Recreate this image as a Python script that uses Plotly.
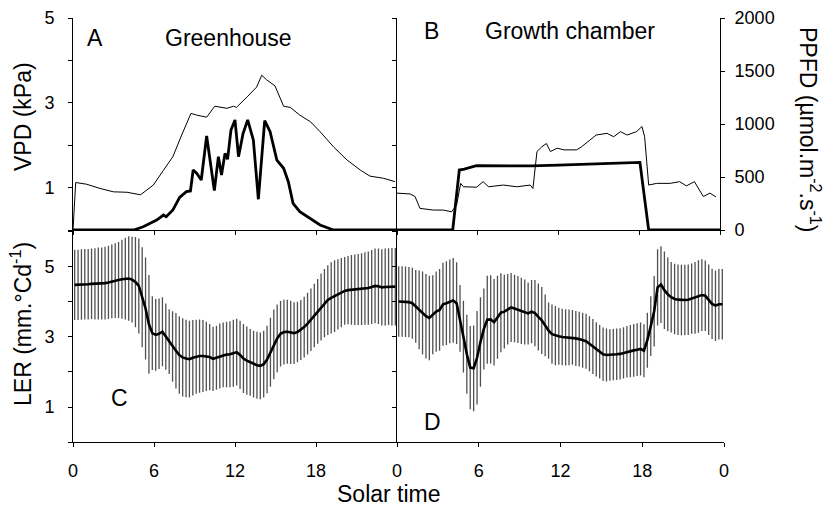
import plotly.graph_objects as go

# ---------------- DATA ----------------
# Panel A (Greenhouse): VPD (kPa, thin) and PPFD (umol m-2 s-1, thick)
gh_vpd_t = [0, 0.2, 1.0, 2.0, 3.0, 4.0, 5.0, 5.95, 6.7, 7.4, 8.05, 8.74, 9.16, 9.9, 10.5,
            11.4, 11.9, 12.1, 12.9, 13.6, 13.98, 14.35, 14.96, 15.6, 16.1, 16.8, 17.6,
            18.3, 19.3, 20.3, 21.3, 22.0, 23.0, 23.85]
gh_vpd = [0, 1.12, 1.08, 0.98, 0.90, 0.89, 0.83, 1.06, 1.41, 1.73, 2.24, 2.75, 2.71, 2.66, 2.92,
          2.87, 2.92, 2.89, 3.14, 3.37, 3.65, 3.54, 3.40, 2.92, 2.89, 2.71, 2.55,
          2.32, 1.96, 1.65, 1.41, 1.27, 1.22, 1.14]
gh_ppfd_t = [0, 4.5, 5.2, 6.2, 6.7, 6.9, 7.4, 7.9, 8.4, 8.7, 8.9, 9.16, 9.5, 9.9, 10.47,
             10.77, 11.0, 11.26, 11.45, 11.7, 12.0, 12.26, 12.6, 12.94, 13.36, 13.73, 14.2,
             14.6, 15.1, 15.6, 15.95, 16.3, 16.8, 17.56, 18.3, 19.3, 24]
gh_ppfd = [0, 0, 31, 94, 141, 126, 189, 308, 362, 368, 566, 535, 472, 887, 371,
           692, 519, 723, 667, 943, 1038, 692, 912, 1038, 849, 290, 1031,
           928, 660, 582, 456, 252, 173, 110, 47, 0, 0]

# Panel B (Growth chamber)
gc_vpd_t = [0, 0.97, 1.34, 1.71, 2.7, 3.44, 4.06, 4.43, 4.73, 4.93, 5.92, 6.4, 6.8, 7.9, 8.9,
            9.9, 10.1, 10.4, 10.75, 11.1, 11.4, 11.9, 12.4, 13.35, 13.7, 14.3, 14.8, 15.6,
            16.1, 16.6, 17.1, 17.8, 18.2, 18.4, 18.7, 19.3, 20.3, 21.0, 21.5, 22.1, 22.76,
            23.25, 23.7]
gc_vpd = [0.87, 0.85, 0.79, 0.51, 0.47, 0.47, 0.43, 0.59, 1.10, 1.02, 1.01, 1.14, 1.02, 1.06, 1.02,
          1.06, 0.98, 1.85, 1.96, 2.04, 1.85, 1.93, 1.89, 1.89, 1.96, 2.12, 2.24, 2.28,
          2.20, 2.32, 2.24, 2.32, 2.44, 2.20, 1.06, 1.10, 1.10, 1.14, 1.04, 1.14, 0.79,
          0.87, 0.78]
gc_ppfd_t = [0, 4.14, 4.63, 5.0, 5.9, 8.0, 10.0, 12.0, 14.0, 16.0, 18.05, 18.7, 24]
gc_ppfd = [0, 0, 566, 575, 607, 605, 605, 612, 620, 630, 638, 0, 0]

# Panels C and D: LER (mm.°Cd-1), mean and SD every 15 min (centre of interval)
ler_t = [0.125 + 0.25 * k for k in range(96)]
gh_ler = [4.47, 4.47, 4.48, 4.49, 4.49, 4.50, 4.50, 4.51, 4.51, 4.52, 4.54, 4.57,
          4.59, 4.61, 4.63, 4.65, 4.65, 4.62, 4.55, 4.44, 4.12, 3.80, 3.35, 3.10,
          3.05, 3.08, 3.14, 3.00, 2.86, 2.72, 2.60, 2.48, 2.41, 2.38, 2.36, 2.40,
          2.43, 2.45, 2.45, 2.44, 2.42, 2.37, 2.40, 2.45, 2.48, 2.49, 2.50, 2.53,
          2.56, 2.48, 2.38, 2.32, 2.27, 2.22, 2.19, 2.17, 2.22, 2.35, 2.56, 2.78,
          2.95, 3.08, 3.13, 3.14, 3.12, 3.10, 3.13, 3.19, 3.27, 3.37, 3.48, 3.60,
          3.72, 3.84, 3.95, 4.04, 4.10, 4.15, 4.20, 4.25, 4.30, 4.32, 4.33, 4.33,
          4.34, 4.35, 4.37, 4.38, 4.41, 4.44, 4.43, 4.40, 4.41, 4.42, 4.42, 4.42]
gh_sd = [1.00, 1.00, 1.00, 1.00, 1.00, 1.00, 1.01, 1.02, 1.02, 1.03, 1.04, 1.05,
         1.06, 1.08, 1.12, 1.16, 1.20, 1.22, 1.28, 1.35, 1.42, 1.45, 1.40, 1.05,
         1.02, 1.00, 0.98, 0.94, 0.92, 1.00, 1.07, 1.10, 1.11, 1.10, 1.09, 1.07,
         1.05, 1.04, 1.02, 0.98, 0.94, 0.91, 0.91, 0.92, 0.92, 0.93, 0.94, 0.95,
         0.95, 0.97, 0.98, 0.97, 0.95, 0.95, 0.95, 0.95, 0.95, 0.96, 0.98, 0.99,
         0.96, 0.93, 0.92, 0.91, 0.90, 0.88, 0.86, 0.85, 0.86, 0.88, 0.89, 0.90,
         0.92, 0.95, 0.97, 0.99, 1.01, 1.02, 1.00, 0.98, 0.96, 0.97, 0.99, 1.00,
         1.01, 1.02, 1.03, 1.04, 1.05, 1.06, 1.07, 1.08, 1.09, 1.09, 1.10, 1.10]
gc_ler = [4.00, 4.00, 3.99, 3.98, 3.95, 3.86, 3.76, 3.67, 3.58, 3.53, 3.62, 3.71,
          3.76, 3.92, 3.95, 4.00, 4.03, 3.95, 3.52, 3.00, 2.50, 2.12, 2.10, 2.40,
          2.85, 3.22, 3.48, 3.49, 3.41, 3.55, 3.68, 3.71, 3.78, 3.83, 3.80, 3.77,
          3.73, 3.70, 3.66, 3.71, 3.67, 3.56, 3.46, 3.32, 3.17, 3.07, 3.03, 3.01,
          2.99, 2.98, 2.98, 2.98, 2.95, 2.93, 2.90, 2.87, 2.80, 2.72, 2.64, 2.57,
          2.50, 2.48, 2.48, 2.49, 2.50, 2.51, 2.54, 2.57, 2.59, 2.61, 2.63, 2.65,
          2.60, 2.90, 3.30, 3.72, 4.40, 4.48, 4.32, 4.20, 4.12, 4.07, 4.05, 4.04,
          4.04, 4.05, 4.08, 4.10, 4.14, 4.18, 4.16, 4.05, 3.93, 3.88, 3.92, 3.92]
gc_sd = [1.00, 1.00, 1.00, 1.00, 1.01, 1.03, 1.12, 1.18, 1.20, 1.20, 1.12, 1.14,
         1.16, 1.18, 1.19, 1.19, 1.20, 1.16, 0.95, 1.02, 1.12, 1.18, 1.22, 1.33,
         1.27, 1.15, 1.25, 1.25, 1.23, 1.18, 1.12, 1.05, 1.00, 0.98, 0.96, 0.95,
         0.94, 0.92, 0.88, 0.90, 0.94, 0.95, 0.95, 0.88, 0.80, 0.84, 0.84, 0.81,
         0.80, 0.80, 0.79, 0.78, 0.78, 0.78, 0.78, 0.78, 0.78, 0.78, 0.77, 0.76,
         0.76, 0.75, 0.73, 0.73, 0.73, 0.73, 0.73, 0.73, 0.74, 0.75, 0.75, 0.75,
         0.75, 0.78, 0.85, 1.00, 1.08, 1.09, 1.10, 1.05, 1.00, 1.00, 1.00, 1.00,
         1.00, 1.00, 1.00, 1.02, 1.03, 1.02, 1.00, 1.00, 1.00, 1.00, 1.00, 1.00]

x_tickvals = [0, 6, 12, 18, 24]
x_tickvals_left = [0, 6, 12, 18]
x_ticktext_left = ["0", "6", "12", "18"]
x_ticktext_right = ["0", "6", "12", "18", "0"]
vpd_major = [1, 3, 5]
vpd_minor = [0, 2, 4]
ler_major = [1, 3, 5]
ler_minor = [0, 2, 4, 6]
ppfd_tickvals = [0, 500, 1000, 1500, 2000]

# ---------------- FIGURE ----------------
W, H = 829, 510
FONT = "Liberation Sans, Arial, sans-serif"
TICKF = dict(family=FONT, size=18, color="black")


def px(x):
    return x / W


def py(y):
    return 1 - y / H


fig = go.Figure()
thin = dict(color="black", width=1)
thick = dict(color="black", width=2.8)

fig.add_trace(go.Scatter(x=gh_vpd_t, y=gh_vpd, mode="lines", line=thin, xaxis="x", yaxis="y"))
fig.add_trace(go.Scatter(x=gh_ppfd_t, y=gh_ppfd, mode="lines", line=thick, xaxis="x", yaxis="y4"))
fig.add_trace(go.Scatter(x=gc_vpd_t, y=gc_vpd, mode="lines", line=thin, xaxis="x2", yaxis="y2"))
fig.add_trace(go.Scatter(x=gc_ppfd_t, y=gc_ppfd, mode="lines", line=thick, xaxis="x2", yaxis="y3"))

eb = dict(type="data", visible=True, thickness=1.3, width=0, color="#505050")
for ler, sd, xa, ya in [(gh_ler, gh_sd, "x3", "y5"), (gc_ler, gc_sd, "x4", "y6")]:
    fig.add_trace(go.Scatter(x=ler_t, y=ler, mode="markers", marker=dict(size=0.1, color="black"),
                             error_y=dict(array=sd, **eb), xaxis=xa, yaxis=ya))
    fig.add_trace(go.Scatter(x=ler_t, y=ler, mode="lines", line=dict(color="black", width=2.6),
                             xaxis=xa, yaxis=ya))

axbase = dict(showline=True, linecolor="black", linewidth=1, ticks="outside", ticklen=4,
              tickwidth=1, tickcolor="black", showgrid=False, zeroline=False,
              tickfont=TICKF, automargin=False)


def minor(vals):
    return dict(tickvals=vals, ticks="outside", ticklen=4, tickwidth=1, tickcolor="black",
                showgrid=False)


top_dom = [py(230), py(18)]
bot_dom = [py(442.3), py(231)]
xl = [px(73), px(397)]
xr_top = [px(397), px(720)]
xr_bot = [px(397), px(724)]

fig.update_layout(
    width=W, height=H, margin=dict(l=0, r=0, t=0, b=0),
    paper_bgcolor="white", plot_bgcolor="rgba(0,0,0,0)", showlegend=False,
    font=dict(family=FONT, color="black"),
    xaxis=dict(axbase, domain=xl, range=[0, 24], anchor="y", tickvals=x_tickvals, showticklabels=False),
    xaxis2=dict(axbase, domain=xr_top, range=[0, 24], anchor="y2", tickvals=x_tickvals, showticklabels=False),
    xaxis3=dict(axbase, domain=xl, range=[0, 24], anchor="y5", tickvals=x_tickvals_left,
                ticktext=x_ticktext_left, ticklabelstandoff=8, minor=minor([24])),
    xaxis4=dict(axbase, domain=xr_bot, range=[0, 24], anchor="y6", tickvals=x_tickvals,
                ticktext=x_ticktext_right, ticklabelstandoff=8),
    yaxis=dict(axbase, domain=top_dom, range=[0, 5], anchor="x", tickvals=vpd_major,
               ticklabelstandoff=10, minor=minor(vpd_minor)),
    yaxis2=dict(axbase, domain=top_dom, range=[0, 5], anchor="x2", tickvals=vpd_major,
                showticklabels=False, minor=minor(vpd_minor)),
    yaxis3=dict(axbase, range=[0, 2000], anchor="x2", overlaying="y2", side="right",
                tickvals=ppfd_tickvals, ticklabelstandoff=6),
    yaxis4=dict(range=[0, 2000], anchor="x", overlaying="y", visible=False),
    yaxis5=dict(axbase, domain=bot_dom, range=[0, 6], anchor="x3", tickvals=ler_major,
                ticklabelstandoff=10, minor=minor(ler_minor)),
    yaxis6=dict(axbase, domain=bot_dom, range=[0, 6], anchor="x4", tickvals=ler_major,
                showticklabels=False, minor=minor(ler_minor)),
)

TF = dict(family=FONT, size=23, color="black")
annots = [
    ("A", 95, 38, 0), ("Greenhouse", 228, 38, 0),
    ("B", 431, 31, 0), ("Growth chamber", 570, 31, 0),
    ("C", 119, 398, 0), ("D", 432, 422, 0),
    ("Solar time", 389, 494, 0),
    ("VPD (kPa)", 23, 117, -90),
    ("LER (mm.°Cd<sup>-1</sup>)", 21, 324, -90),
    ("PPFD (µmol.m<sup>-2</sup>.s<sup>-1</sup>)", 810, 129, 90),
]
for txt, x, y, ang in annots:
    fig.add_annotation(text=txt, x=px(x), y=py(y), xref="paper", yref="paper",
                       showarrow=False, xanchor="center", yanchor="middle",
                       textangle=ang, font=TF)

fig.write_html("out.html")
